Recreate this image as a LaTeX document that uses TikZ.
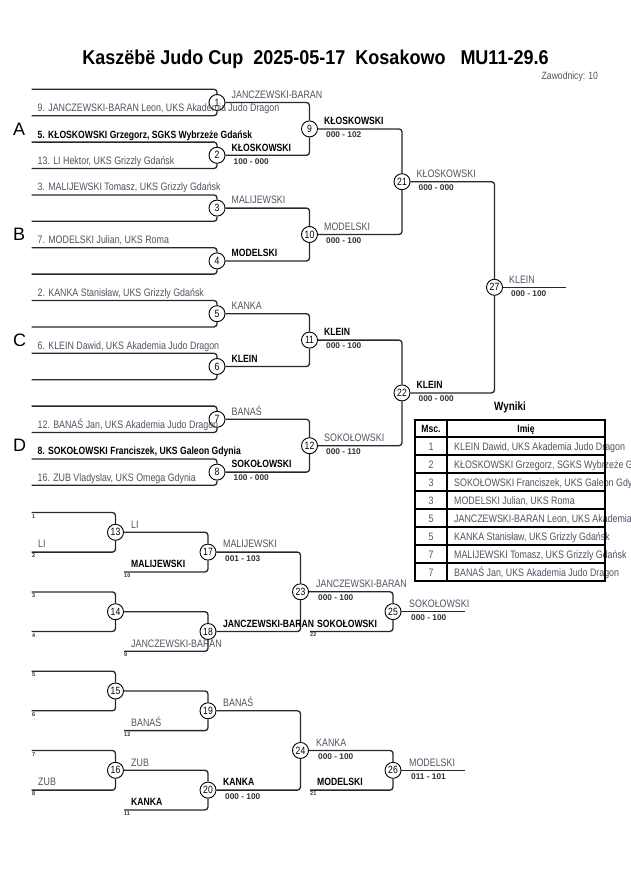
\documentclass[tikz,border=0pt]{standalone}
\usepackage{fontspec}
\setmainfont{Liberation Sans}
\newfontfamily\cf[FakeStretch=0.82]{Liberation Sans}
\newfontfamily\tf[FakeStretch=0.9]{Liberation Sans}
\definecolor{ln}{RGB}{40,40,40}
\definecolor{nm}{RGB}{80,84,98}
\definecolor{sc}{RGB}{50,50,55}
\tikzset{
 mc/.style={circle,draw=black,line width=0.9pt,minimum size=16pt,inner sep=0pt,font=\cf\fontsize{10.5}{11}\selectfont},
 conn/.style={draw=ln,line width=1.3pt,rounded corners=3pt},
 nml/.style={anchor=base west,inner sep=0pt,text=nm,font=\cf\fontsize{10.8}{12}\selectfont},
 bld/.style={anchor=base west,inner sep=0pt,text=black,font=\cf\bfseries\fontsize{10.5}{12}\selectfont},
 scr/.style={anchor=base west,inner sep=0pt,text=sc,font=\bfseries\fontsize{8.3}{10}\selectfont},
 sml/.style={anchor=base west,inner sep=0pt,text=sc,font=\bfseries\fontsize{5.5}{6}\selectfont},
 pool/.style={anchor=base west,inner sep=0pt,font=\fontsize{18}{20}\selectfont},
 tbl/.style={anchor=base west,inner sep=0pt,text=nm,font=\cf\fontsize{10.8}{12}\selectfont},
 rnk/.style={anchor=base,inner sep=0pt,text=nm,font=\cf\fontsize{10.8}{12}\selectfont},
 hdr/.style={anchor=base,inner sep=0pt,font=\cf\bfseries\fontsize{10.5}{12}\selectfont},
}
\begin{document}
\begin{tikzpicture}[x=1pt,y=-1pt]
\useasboundingbox (0,0) rectangle (630,891);
\fill[white] (0,0) rectangle (630,891);
% title
\node[anchor=base,inner sep=0pt,font=\tf\bfseries\fontsize{20}{24}\selectfont] (title) at (315.5,64.5) {Kaszëbë Judo Cup\ \ 2025-05-17\ \ Kosakowo\ \ \ MU11-29.6};
\node[anchor=base west,inner sep=0pt,text=nm,font=\cf\fontsize{10.5}{12}\selectfont] (zaw) at (541.5,79) {Zawodnicy: 10};
% pool letters
\node[pool] (pA) at (13,135) {A};
\node[pool] (pB) at (13,240.5) {B};
\node[pool] (pC) at (13,346) {C};
\node[pool] (pD) at (13,451.7) {D};
% main circles
\foreach \n/\x/\y in {1/217/102.5,2/217/155.3,3/217/208.1,4/217/260.9,5/217/313.7,6/217/366.5,7/217/419.3,8/217/472.1,
 9/309.5/128.9,10/309.5/234.5,11/309.5/340.1,12/309.5/445.7,21/402/181.7,22/402/392.9,27/494.5/287.3,
 13/115.5/532.3,14/115.5/611.7,15/115.5/691,16/115.5/770.3,17/208/552.1,18/208/631.5,19/208/710.8,20/208/790.1,
 23/300.5/591.8,24/300.5/750.45,25/393/611.6,26/393/770.3}
 \node[mc] (m\n) at (\x,\y) {\n};
% main entry lines
\foreach \k/\y in {0/89.3,1/115.7,2/142.1,3/168.5,4/194.9,5/221.3,6/247.7,7/274.1,8/300.5,9/326.9,10/353.3,11/379.7,12/406.1,13/432.5,14/458.9,15/485.3}
 \coordinate (e\k) at (31.5,\y);
\foreach \k/\m in {0/1,1/1,2/2,3/2,4/3,5/3,6/4,7/4,8/5,9/5,10/6,11/6,12/7,13/7,14/8,15/8}
 \draw[conn] (e\k) -| (m\m);
\foreach \a/\b in {1/9,2/9,3/10,4/10,5/11,6/11,7/12,8/12,9/21,10/21,11/22,12/22,21/27,22/27}
 \draw[conn] (m\a) -| (m\b);
\coordinate (f27) at (566,287.3);
\draw[conn] (m27) -- (f27);
% entries
\node[nml] (n1) at (37.5,111.7) {9. JANCZEWSKI-BARAN Leon, UKS Akademia Judo Dragon};
\node[bld] (n2) at (37.5,138.1) {5. KŁOSKOWSKI Grzegorz, SGKS Wybrzeże Gdańsk};
\node[nml] (n3) at (37.5,164.5) {13. LI Hektor, UKS Grizzly Gdańsk};
\node[nml] (n4) at (37.5,190.9) {3. MALIJEWSKI Tomasz, UKS Grizzly Gdańsk};
\node[nml] (n6) at (37.5,243.7) {7. MODELSKI Julian, UKS Roma};
\node[nml] (n8) at (37.5,296.5) {2. KANKA Stanisław, UKS Grizzly Gdańsk};
\node[nml] (n10) at (37.5,349.3) {6. KLEIN Dawid, UKS Akademia Judo Dragon};
\node[nml] (n13) at (37.5,428.5) {12. BANAŚ Jan, UKS Akademia Judo Dragon};
\node[bld] (n14) at (37.5,454.9) {8. SOKOŁOWSKI Franciszek, UKS Galeon Gdynia};
\node[nml] (n15) at (37.5,481.3) {16. ZUB Vladyslav, UKS Omega Gdynia};
% main labels
\node[nml] (l1) at (231.5,98.2) {JANCZEWSKI-BARAN};
\node[bld] (l2) at (231.5,151) {KŁOSKOWSKI};
\node[scr] (s2) at (233.5,164) {100 - 000};
\node[nml] (l3) at (231.5,203.8) {MALIJEWSKI};
\node[bld] (l4) at (231.5,256.6) {MODELSKI};
\node[nml] (l5) at (231.5,309.4) {KANKA};
\node[bld] (l6) at (231.5,362.2) {KLEIN};
\node[nml] (l7) at (231.5,415) {BANAŚ};
\node[bld] (l8) at (231.5,467.8) {SOKOŁOWSKI};
\node[scr] (s8) at (233.5,480.8) {100 - 000};
\node[bld] (l9) at (324,124.6) {KŁOSKOWSKI};
\node[scr] (s9) at (326,137.6) {000 - 102};
\node[nml] (l10) at (324,230.2) {MODELSKI};
\node[scr] (s10) at (326,243.2) {000 - 100};
\node[bld] (l11) at (324,335.8) {KLEIN};
\node[scr] (s11) at (326,348.8) {000 - 100};
\node[nml] (l12) at (324,441.4) {SOKOŁOWSKI};
\node[scr] (s12) at (326,454.4) {000 - 110};
\node[nml] (l21) at (416.5,177.4) {KŁOSKOWSKI};
\node[scr] (s21) at (418.5,190.4) {000 - 000};
\node[bld] (l22) at (416.5,388.6) {KLEIN};
\node[scr] (s22) at (418.5,401.6) {000 - 000};
\node[nml] (l27) at (509,283) {KLEIN};
\node[scr] (s27) at (511,296) {000 - 100};
% repechage lines
\foreach \k/\y in {1/512.5,2/552.1,3/591.9,4/631.5,5/671.2,6/710.8,7/750.5,8/790.1}
 \coordinate (r\k) at (31.5,\y);
\foreach \k/\m in {1/13,2/13,3/14,4/14,5/15,6/15,7/16,8/16}
 \draw[conn] (r\k) -| (m\m);
\coordinate (i17) at (124,571.9);
\coordinate (i18) at (124,651.3);
\coordinate (i19) at (124,730.6);
\coordinate (i20) at (124,809.9);
\coordinate (i25) at (310,631.4);
\coordinate (i26) at (310,790.1);
\foreach \m in {17,18,19,20,25,26}
 \draw[conn] (i\m) -| (m\m);
\foreach \a/\b in {13/17,14/18,15/19,16/20,17/23,18/23,19/24,20/24,23/25,24/26}
 \draw[conn] (m\a) -| (m\b);
\coordinate (f25) at (465,611.6);
\coordinate (f26) at (465,770.3);
\draw[conn] (m25) -- (f25);
\draw[conn] (m26) -- (f26);
% small numbers
\foreach \k/\y in {1/518,2/557.6,3/597.4,4/637,5/676.7,6/716.3,7/756,8/795.6}
 \node[sml] (q\k) at (32,\y) {\k};
\node[sml] (q17) at (124,577.4) {10};
\node[sml] (q18) at (124,656.8) {9};
\node[sml] (q19) at (124,736.1) {12};
\node[sml] (q20) at (124,815.4) {11};
\node[sml] (q25) at (310,636.9) {22};
\node[sml] (q26) at (310,795.6) {21};
% repechage input labels
\node[nml] (li2) at (38,547.6) {LI};
\node[nml] (li8) at (38,785.6) {ZUB};
\node[bld] (li17) at (131,567.4) {MALIJEWSKI};
\node[nml] (li18) at (131,647) {JANCZEWSKI-BARAN};
\node[nml] (li19) at (131,726.3) {BANAŚ};
\node[bld] (li20) at (131,805.6) {KANKA};
\node[bld] (li25) at (317,627.1) {SOKOŁOWSKI};
\node[bld] (li26) at (317,785.8) {MODELSKI};
% repechage match labels
\node[nml] (l13) at (131,528) {LI};
\node[nml] (l16) at (131,766) {ZUB};
\node[nml] (l17) at (223,547.8) {MALIJEWSKI};
\node[scr] (s17) at (225,561) {001 - 103};
\node[bld] (l18) at (223,627.2) {JANCZEWSKI-BARAN};
\node[nml] (l19) at (223,706.5) {BANAŚ};
\node[bld] (l20) at (223,785.8) {KANKA};
\node[scr] (s20) at (225,799) {000 - 100};
\node[nml] (l23) at (316,587.5) {JANCZEWSKI-BARAN};
\node[scr] (s23) at (318,600.5) {000 - 100};
\node[nml] (l24) at (316,746.2) {KANKA};
\node[scr] (s24) at (318,759.2) {000 - 100};
\node[nml] (l25) at (409,607.3) {SOKOŁOWSKI};
\node[scr] (s25) at (411,620.3) {000 - 100};
\node[nml] (l26) at (409,766) {MODELSKI};
\node[scr] (s26) at (411,779) {011 - 101};
% results table
\node[anchor=base,inner sep=0pt,font=\cf\bfseries\fontsize{12}{14}\selectfont] (wyn) at (510,410) {Wyniki};
\node[hdr] (hm) at (431,432) {Msc.};
\node[hdr] (hi) at (526,432) {Imię};
\node[rnk] (k1) at (431,450.5) {1};
\node[tbl] (t1) at (454,450.5) {KLEIN Dawid, UKS Akademia Judo Dragon};
\node[rnk] (k2) at (431,468.5) {2};
\node[tbl] (t2) at (454,468.5) {KŁOSKOWSKI Grzegorz, SGKS Wybrzeże Gdańsk};
\node[rnk] (k3) at (431,486.5) {3};
\node[tbl] (t3) at (454,486.5) {SOKOŁOWSKI Franciszek, UKS Galeon Gdynia};
\node[rnk] (k4) at (431,504.5) {3};
\node[tbl] (t4) at (454,504.5) {MODELSKI Julian, UKS Roma};
\node[rnk] (k5) at (431,522.5) {5};
\node[tbl] (t5) at (454,522.5) {JANCZEWSKI-BARAN Leon, UKS Akademia Judo Dragon};
\node[rnk] (k6) at (431,540.5) {5};
\node[tbl] (t6) at (454,540.5) {KANKA Stanisław, UKS Grizzly Gdańsk};
\node[rnk] (k7) at (431,558.5) {7};
\node[tbl] (t7) at (454,558.5) {MALIJEWSKI Tomasz, UKS Grizzly Gdańsk};
\node[rnk] (k8) at (431,576.5) {7};
\node[tbl] (t8) at (454,576.5) {BANAŚ Jan, UKS Akademia Judo Dragon};
\foreach \y in {437,455,473,491,509,527,545,563}
 \draw[line width=1.1pt] (415,\y) -- (605,\y);
\draw[line width=1.1pt] (447,420) -- (447,581);
\draw[line width=2pt] (415,420) rectangle (605,581);
\end{tikzpicture}
\end{document}
